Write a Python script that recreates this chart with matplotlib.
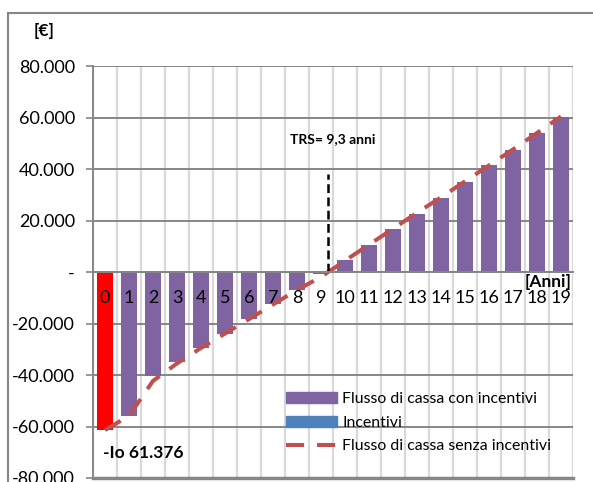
import matplotlib
matplotlib.use("Agg")
import matplotlib.pyplot as plt
from matplotlib.ticker import FuncFormatter, MultipleLocator
from matplotlib.patches import Patch
from matplotlib.lines import Line2D

plt.rcParams["font.family"] = ["Lato", "DejaVu Sans"]

# cash flow per year (EUR)
anni = list(range(20))
flusso_con_incentivi = [-61376, -56000, -40300, -34800, -29600, -24100, -18400, -12600, -6900, -900,
                        4800, 10500, 16700, 22600, 28800, 35100, 41400, 47500, 54000, 60300]
flusso_senza_incentivi = [-61376, -55900, -42300, -35500, -29500, -23900, -18300, -12600, -7000, -1900,
                          4400, 10600, 16800, 23000, 29000, 35200, 41400, 47600, 54000, 60400]
incentivi = [0] * 20
investimento = -61376
trs = 9.3
trs_top = 38000
y_ticks = list(range(-80000, 80001, 20000))

viola = "#8064A2"
rosso = "#C0504D"
blu = "#4F81BD"
grigio = "#868686"
grigio_chiaro = "#D9D9D9"

fig = plt.figure(figsize=(5.93, 4.82), dpi=100)
ax = fig.add_axes([93 / 593, 4 / 482, 480 / 593, 412 / 482])

# grid drawn by hand so the axis (and the year labels) can stay above the bars
for y in y_ticks:
    ax.axhline(y, color=grigio, lw=1.4, zorder=0.6)
for a in range(21):
    ax.axvline(a - 0.5, color=grigio_chiaro, lw=1.6, zorder=0.5)

colori = ["#FF0000"] + [viola] * 19
ax.bar(anni, flusso_con_incentivi, width=0.66, color=colori, zorder=1)
ax.bar(anni, incentivi, width=0.66, bottom=flusso_con_incentivi, color=blu, zorder=1)
ax.plot(anni, flusso_senza_incentivi, color=rosso, lw=2.9, ls=(0, (4.5, 3)),
        dash_capstyle="butt", zorder=1.5)
ax.plot([trs, trs], [0, trs_top], color="black", lw=1.8, ls=(0, (3.5, 1.8)), zorder=1.5)

ax.set_xlim(-0.5, 19.5)
ax.set_ylim(-80000, 80000)
ax.set_yticks(y_ticks)


def fmt_euro(v, pos):
    if v == 0:
        return "-"
    return f"{v:,.0f}".replace(",", ".")


ax.yaxis.set_major_formatter(FuncFormatter(fmt_euro))
ax.tick_params(axis="y", length=5, width=1.2, color=grigio, pad=8, labelsize=13)

ax.set_xticks(anni)
ax.set_xticklabels([str(a) for a in anni])
ax.tick_params(axis="x", length=0, pad=13, labelsize=13)
ax.spines["bottom"].set_position(("data", 0))

for lato in ["top", "right"]:
    ax.spines[lato].set_visible(False)
ax.spines["left"].set_color(grigio)
ax.spines["left"].set_linewidth(1.4)
ax.spines["bottom"].set_color(grigio)
ax.spines["bottom"].set_linewidth(1.4)
ax.axhline(-80000, color=grigio, lw=2.5, clip_on=False, zorder=0.6)

ax.annotate("[Anni]", xy=(19.5, 0), xytext=(-1, -2), textcoords="offset pixels",
            ha="right", va="top", fontsize=12.5, fontweight="bold")
ax.annotate("TRS= 9,3 anni", xy=(trs, trs_top), xytext=(-38, 35), textcoords="offset pixels",
            ha="left", va="center", fontsize=10, fontweight="bold")
testo_io = "-Io " + f"{abs(investimento):,.0f}".replace(",", ".")
ax.annotate(testo_io, xy=(0, investimento), xytext=(-2, -23), textcoords="offset pixels",
            ha="left", va="center", fontsize=12.5, fontweight="bold")

fig.text(44 / 593, 1 - 31 / 482, "[€]", ha="center", va="center", fontsize=12.5, fontweight="bold")

# outer chart frame
fig.add_artist(Line2D([8 / 593, 8 / 593], [0, 1 - 13 / 482], color=grigio, lw=1.5))
fig.add_artist(Line2D([8 / 593, 1], [1 - 13 / 482, 1 - 13 / 482], color=grigio, lw=1.5))

maniglie = [Patch(color=viola), Patch(color=blu),
            Line2D([], [], color=rosso, lw=2.9, ls=(0, (4.5, 3.2)))]
etichette = ["Flusso di cassa con incentivi", "Incentivi", "Flusso di cassa senza incentivi"]
fig.legend(maniglie, etichette, loc="upper left", bbox_to_anchor=(286 / 593, 1 - 392 / 482),
           bbox_transform=fig.transFigure, frameon=False, fontsize=11.4, borderpad=0,
           borderaxespad=0, handlelength=3.2, handletextpad=0.35, labelspacing=0.6)

fig.savefig("out.png", dpi=100)
